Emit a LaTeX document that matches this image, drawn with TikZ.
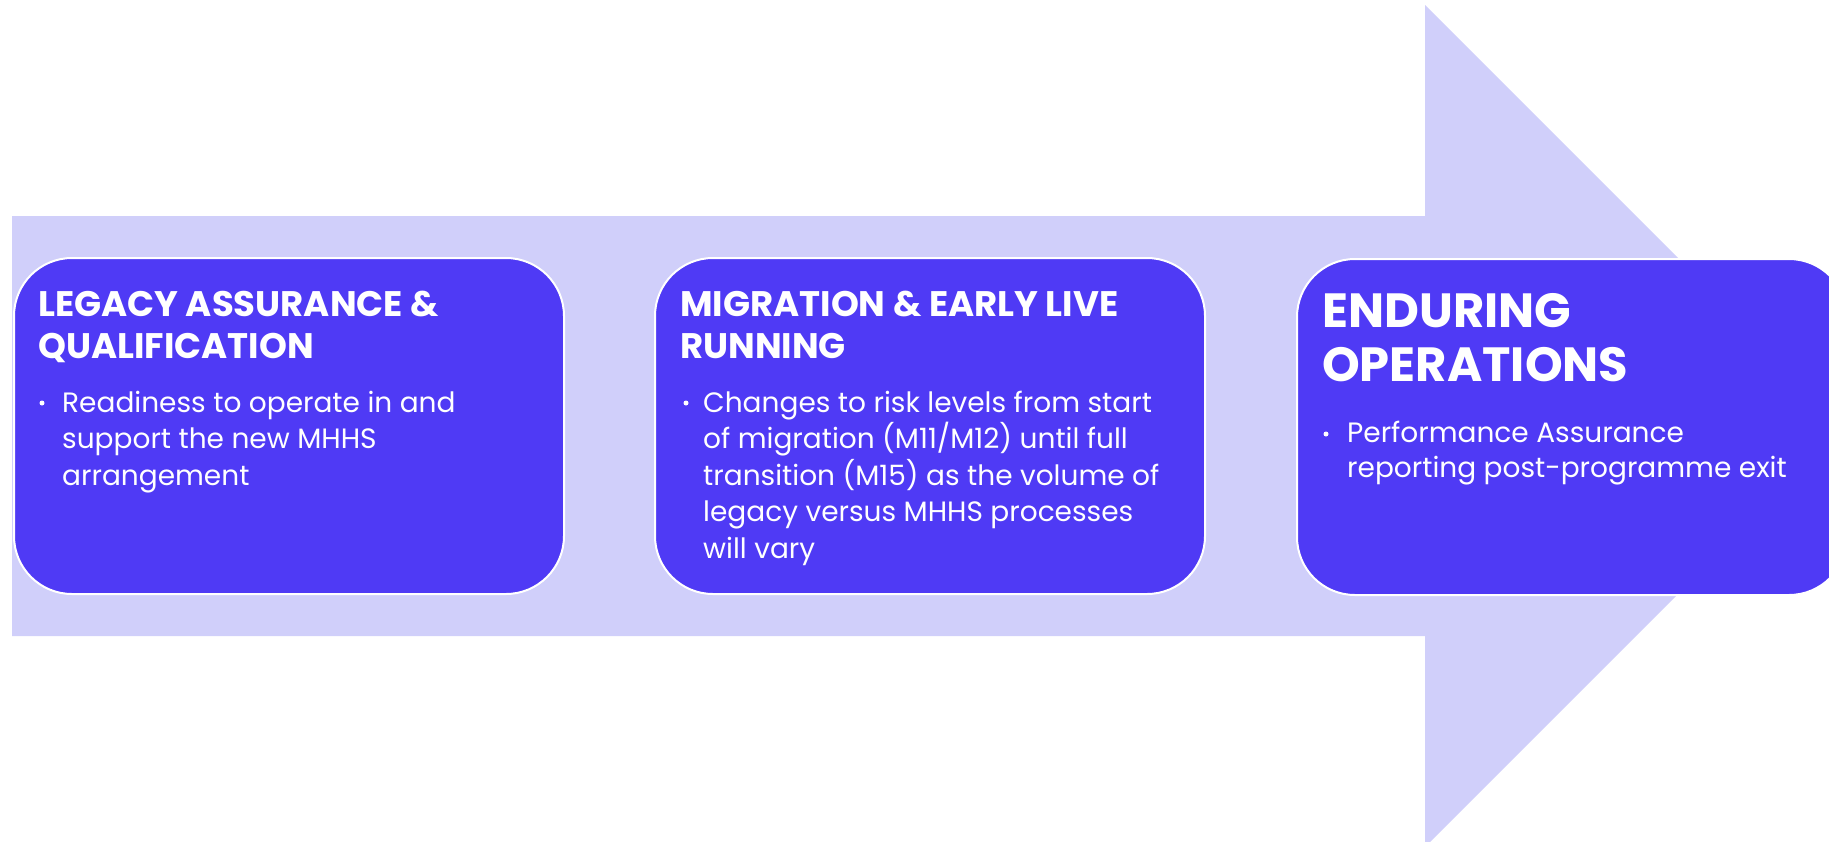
\documentclass[tikz,border=0pt]{standalone}
\usepackage{fontspec}
\setmainfont{Poppins}
\usetikzlibrary{positioning}
\definecolor{arrowfill}{RGB}{208,207,250}
\definecolor{boxfill}{RGB}{79,58,245}
\tikzset{
  phase/.style={draw=white, line width=2pt, fill=boxfill, rounded corners=58pt,
    minimum width=550pt, minimum height=336pt, anchor=north west, inner sep=0pt},
  phasetitle/.style={text=white, font=\fontsize{35.5}{42}\selectfont\bfseries,
    align=left, anchor=base west, inner sep=0pt},
  bigtitle/.style={phasetitle, font=\fontsize{48}{54}\selectfont\bfseries},
  phasetext/.style={text=white, font=\fontsize{28}{36.5}\selectfont,
    align=left, anchor=base west, inner sep=0pt},
  bulletmark/.style={circle, fill=white, inner sep=0pt, minimum size=5pt}
}
\begin{document}
\begin{tikzpicture}[x=1pt,y=-1pt]
	\useasboundingbox (0,0) rectangle (1829,841);
	\clip (0,0) rectangle (1829,841);
	% the big arrow behind
	\fill[arrowfill] (12,216) -- (1425,216) -- (1425,5) -- (1846,426)
		-- (1425,847) -- (1425,636) -- (12,636) -- cycle;
	% phases
	\node[phase] (legacy) at (13,257) {};
	\node[phase] (migration) at (654,257) {};
	\node[phase] (enduring) at (1296,258) {};
	% base = last line
	\node[phasetitle] (legacytitle) at (38,358) {LEGACY ASSURANCE \&\\QUALIFICATION};
	\node[phasetitle] (migrationtitle) at (680,358) {MIGRATION \& EARLY LIVE\\RUNNING};
	\node[bigtitle] (enduringtitle) at (1322,381) {ENDURING\\OPERATIONS};
	\node[phasetext] (legacytext) at (62,485) {Readiness to operate in and\\support the new MHHS\\arrangement};
	\node[phasetext] (migrationtext) at (703,558) {Changes to risk levels from start\\of migration (M11/M12) until full\\transition (M15) as the volume of\\legacy versus MHHS processes\\will vary};
	\node[phasetext, font=\fontsize{28}{35}\selectfont] (enduringtext) at (1347,477) {Performance Assurance\\reporting post-programme exit};
	\node[bulletmark] (legacydot) at (42,403) {};
	\node[bulletmark] (migrationdot) at (686,403) {};
	\node[bulletmark] (enduringdot) at (1326,434) {};
\end{tikzpicture}
\end{document}
